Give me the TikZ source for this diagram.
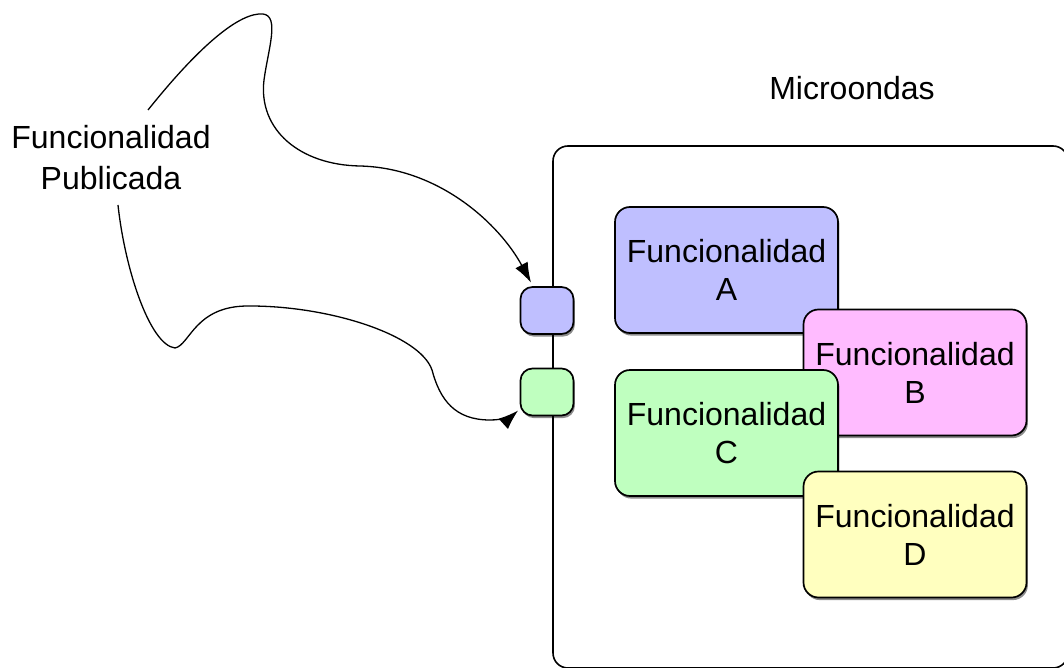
\documentclass[tikz,border=0pt]{standalone}
\usepackage{fontspec}
\setmainfont{Liberation Sans}
\usetikzlibrary{shadows,arrows.meta}
\definecolor{cA}{RGB}{191,191,255}
\definecolor{cB}{RGB}{255,187,255}
\definecolor{cC}{RGB}{191,255,191}
\definecolor{cD}{RGB}{255,255,191}
\begin{document}
\begin{tikzpicture}[x=0.5pt,y={(0pt,-0.5pt)},
  txt/.style={font=\fontsize{16}{20.5}\selectfont, align=center, inner sep=0pt},
  outerbox/.style={draw, line width=0.8pt, rounded corners=7.5pt, fill=white, minimum width=257.5pt, minimum height=261pt, inner sep=0pt},
  funcbox/.style={draw, line width=0.85pt, rounded corners=7.5pt, minimum width=111.5pt, minimum height=63pt, inner sep=0pt,
     font=\fontsize{16}{19}\selectfont, align=center,
     drop shadow={shadow xshift=0.7pt, shadow yshift=-1.3pt, opacity=0.45, fill=black}},
  port/.style={draw, line width=0.85pt, rounded corners=6pt, minimum width=26.5pt, minimum height=23.5pt, inner sep=0pt,
     drop shadow={shadow xshift=0.7pt, shadow yshift=-1.3pt, opacity=0.45, fill=black}},
  conn/.style={line width=0.65pt, -{Latex[length=10pt,width=7pt]}}]
\useasboundingbox (0,0) rectangle (1064,668);
\node[outerbox] (micro) at (810.5,407) {};
\node[txt] (title) at (852,88) {Microondas};
\node[txt] (pub) at (111,157.5) {Funcionalidad\\Publicada};
\node[port, fill=cA] (p1) at (547,310.5) {};
\node[port, fill=cC] (p2) at (547,392) {};
\node[funcbox, fill=cA] (fa) at (726.5,270) {Funcionalidad\\A};
\node[funcbox, fill=cB] (fb) at (915,372.5) {Funcionalidad\\B};
\node[funcbox, fill=cC] (fc) at (726.5,433) {Funcionalidad\\C};
\node[funcbox, fill=cD] (fd) at (915,534.5) {Funcionalidad\\D};
\coordinate (s1) at (148,110);
\coordinate (s2) at (118,205);
\draw[conn, shorten >=2pt] (s1) .. controls (200,45) and (240,12) .. (263,14)
  .. controls (280,16) and (268,50) .. (264,80)
  .. controls (258,130) and (300,165) .. (360,166)
  .. controls (440,168) and (500,225) .. (p1.120);
\draw[conn, shorten >=1pt] (s2) .. controls (125,270) and (150,345) .. (175,348)
  .. controls (190,345) and (195,305) .. (250,306)
  .. controls (330,306) and (420,335) .. (432,370)
  .. controls (440,400) and (455,420) .. (490,420)
  .. controls (502,420) and (512,416) .. (p2.212);
\end{tikzpicture}
\end{document}
